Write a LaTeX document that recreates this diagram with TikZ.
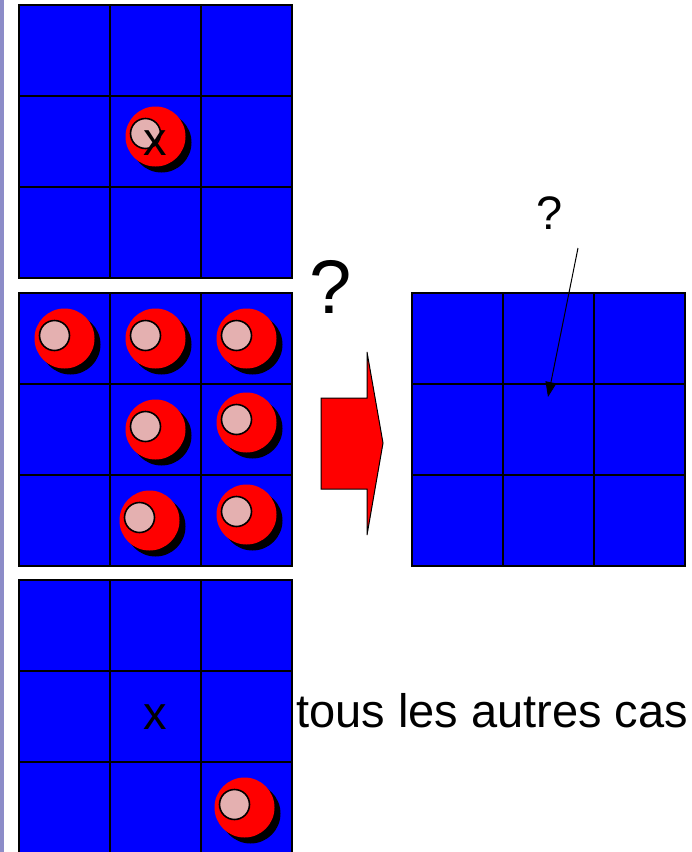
\documentclass[tikz,border=0pt]{standalone}
\usepackage{fontspec}
\setmainfont{Liberation Sans}
\usetikzlibrary{arrows.meta}
\definecolor{bleu}{HTML}{0000FF}
\definecolor{rouge}{HTML}{FF0000}
\definecolor{rose}{HTML}{E4B0B0}
\definecolor{lavande}{HTML}{8C8CC8}
\tikzset{
  case/.style={draw=black, line width=1.8pt, fill=bleu, minimum size=91pt, inner sep=0pt, outer sep=0pt},
  texte/.style={inner sep=0pt, font=\fontsize{47}{56}\selectfont},
  fleche/.style={-{Triangle[length=15pt,width=11pt]}, line width=1pt, draw=black},
  grosse/.style={fill=rouge, draw=black, line width=1pt, line join=miter},
  pion/.pic={
    \fill[black] (6,6) circle[radius=30];
    \fill[rouge] (0,0) circle[radius=30];
    \filldraw[fill=rose, draw=black, line width=1.6pt] (-10,-3) circle[radius=15];
  }
}

\begin{document}
\begin{tikzpicture}[x=1pt, y=-1pt]
  \useasboundingbox (0,0) rectangle (692,852);
  \fill[lavande] (0,0) rectangle (4,852);

  % les quatre grilles 3x3
  \foreach \g/\ox/\oy in {g1/19/5, g2/19/293, g3/19/580, g4/412/293}
    \foreach \r in {0,1,2}
      \foreach \c in {0,1,2}
        \node[case] (\g-\r-\c) at (\ox+45.5+91*\c, \oy+45.5+91*\r) {};

  % pions
  \pic at ([yshift=5pt]g1-1-1) {pion};
  \pic at (g2-0-0) {pion};
  \pic at (g2-0-1) {pion};
  \pic at (g2-0-2) {pion};
  \pic at (g2-1-1) {pion};
  \pic at ([yshift=7pt]g2-1-2) {pion};
  \pic at ([xshift=-6pt]g2-2-1) {pion};
  \pic at ([yshift=6pt]g2-2-2) {pion};
  \pic at ([xshift=-2pt]g3-2-2) {pion};

  \node[texte, anchor=base] (x1) at (155,155) {x};
  \node[texte, anchor=base] (x3) at (155,729) {x};

  % grosse fleche
  \draw[grosse] (321,398) -- (367,398) -- (367,352) -- (383,443)
    -- (367,535) -- (367,489) -- (321,489) -- cycle;
  \node[inner sep=0pt, font=\fontsize{76}{80}\selectfont, anchor=base] (qgrand) at (331,313) {?};

  \node[texte, anchor=base] (qpetit) at (550,229) {?};
  \coordinate (depart) at (578,248);
  \coordinate (pointe) at (548,397);
  \draw[fleche] (depart) -- (pointe);

  \node[texte, anchor=base west] (autres) at (296,727) {tous les autres cas};
\end{tikzpicture}
\end{document}
